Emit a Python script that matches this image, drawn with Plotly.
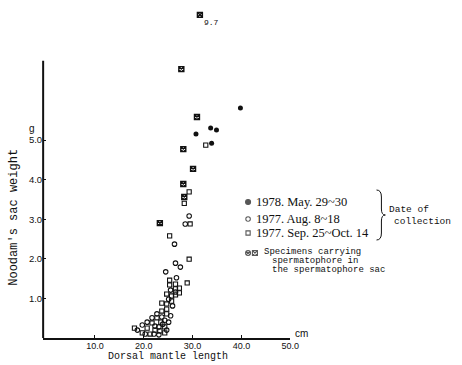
import plotly.graph_objects as go

# ---------------- data ----------------
# 1978. May. 29~30 (filled circles)
may78_x = [39.8, 33.7, 34.9, 30.7, 33.9]
may78_y = [5.81, 5.30, 5.25, 5.15, 4.92]

# 1977. Aug. 8~18 (open circles)
aug77_x = [26.5, 27.5, 24.5, 26.3, 29.3, 28.5, 26.5, 25.5, 22.7, 23.7, 24.3, 19.7, 18.7,
           20.7, 21.7, 22.3, 23.1, 23.9, 20.3, 22.1, 23.1, 24.7, 25.1, 25.5, 25.1, 25.9, 26.7]
aug77_y = [1.89, 1.79, 1.67, 2.37, 3.08, 2.88, 1.16, 1.21, 0.61, 0.53, 0.45, 0.33, 0.20,
           0.40, 0.51, 0.30, 0.28, 0.35, 0.10, 0.10, 0.08, 0.20, 0.40, 0.56, 0.98, 0.81, 1.52]

# 1977. Sep. 25~Oct. 14 (open squares)
sep77_x = [32.7, 29.3, 28.3, 29.5, 25.3, 29.3, 28.9,
           25.3, 25.3, 26.5, 26.5, 27.3, 27.3, 24.7, 25.7, 25.7, 26.5, 23.7, 24.7, 24.7,
           23.7, 24.7, 22.7, 23.5, 21.7, 18.1, 20.7, 22.3, 23.3, 24.3, 24.3, 21.3, 19.7]
sep77_y = [4.87, 3.69, 3.40, 2.88, 2.58, 1.99, 1.39,
           1.46, 1.34, 1.36, 1.24, 1.26, 1.14, 1.11, 1.06, 0.93, 1.09, 0.88, 0.86, 0.73,
           0.68, 0.61, 0.51, 0.40, 0.38, 0.25, 0.25, 0.20, 0.18, 0.28, 0.13, 0.10, 0.13]

# Specimens carrying spermatophore in the spermatophore sac (crossed markers)
sperm_x = [27.7, 30.9, 28.1, 30.1, 28.1, 28.3, 23.3]
sperm_y = [6.79, 5.58, 4.77, 4.27, 3.89, 3.56, 2.90]
# off-scale specimen
sperm_off_x = [31.5]
sperm_off_value = [9.7]

x_ticks = [10, 20, 30, 40, 50]
x_ticklabels = ["10.0", "20.0", "30.0", "40.0", "50.0"]
y_ticks = [1, 2, 3, 4, 5]
y_ticklabels = ["1.0", "2.0", "3.0", "4.0", "5.0"]

legend_labels = ["1978. May. 29~30", "1977. Aug. 8~18", "1977. Sep. 25~Oct. 14"]

# ---------------- layout constants ----------------
W, H = 462, 365
PX_L, PX_R, PX_B, PX_T = 44, 296, 338, 8        # plot area in pixels
Y_TOP = (PX_B - PX_T) / 39.6                      # y range top in data units
AXIS_BREAK_Y = 8.16                               # display height of off-scale point
Y_AXIS_END = 7.0

BLACK = "#111111"
MONO = "Liberation Mono"
SERIF = "Liberation Serif"
SANS = "Liberation Sans"

fig = go.Figure()

mk_line = dict(color=BLACK, width=1.1)
fig.add_trace(go.Scatter(x=aug77_x, y=aug77_y, mode="markers",
                         marker=dict(symbol="circle-open", size=4.5, color=BLACK, line=mk_line)))
fig.add_trace(go.Scatter(x=sep77_x, y=sep77_y, mode="markers",
                         marker=dict(symbol="square-open", size=4.2, color=BLACK, line=mk_line)))
fig.add_trace(go.Scatter(x=may78_x, y=may78_y, mode="markers",
                         marker=dict(symbol="circle", size=5, color=BLACK)))
fig.add_trace(go.Scatter(x=sperm_x, y=sperm_y, mode="markers",
                         marker=dict(symbol="square-x-open", size=5, color=BLACK,
                                     line=dict(color=BLACK, width=1.4))))
fig.add_trace(go.Scatter(x=sperm_off_x, y=[min(v, AXIS_BREAK_Y) for v in sperm_off_value],
                         mode="markers+text",
                         text=[f"{v}" for v in sperm_off_value], textposition="bottom right",
                         textfont=dict(family=MONO, size=8, color=BLACK),
                         marker=dict(symbol="square-x-open", size=5, color=BLACK,
                                     line=dict(color=BLACK, width=1.4))))

# legend glyphs in an overlay pixel space (x2/y2)
leg_px_x = [253, 253, 253, 253, 260]
leg_px_y = [202, 219, 233, 253, 253]
leg_sym = ["circle", "circle-open", "square-open", "circle-x-open", "square-x-open"]
leg_size = [5, 4.5, 4.2, 5, 5]
fig.add_trace(go.Scatter(x=leg_px_x, y=leg_px_y, xaxis="x2", yaxis="y2", mode="markers",
                         marker=dict(symbol=leg_sym, size=leg_size, color=BLACK,
                                     line=dict(color=BLACK, width=1.1))))

fig.update_layout(
    width=W, height=H,
    margin=dict(l=0, r=0, t=0, b=0),
    paper_bgcolor="white", plot_bgcolor="rgba(0,0,0,0)",
    showlegend=False,
    xaxis=dict(domain=[PX_L / W, PX_R / W], range=[-0.6, 50], showgrid=False, zeroline=False,
               showline=True, linecolor=BLACK, linewidth=2,
               tickvals=x_ticks, ticktext=x_ticklabels, ticks="inside", ticklen=3,
               tickcolor=BLACK, tickfont=dict(family=SANS, size=9, color=BLACK),
               ticklabelstandoff=-2),
    yaxis=dict(domain=[(H - PX_B) / H, (H - PX_T) / H], range=[0, Y_TOP], showgrid=False,
               zeroline=False, showline=False,
               tickvals=y_ticks, ticktext=y_ticklabels, ticks="inside", ticklen=3,
               tickcolor=BLACK, tickfont=dict(family=SANS, size=9.5, color=BLACK),
               ticklabelstandoff=0),
    xaxis2=dict(domain=[0, 1], range=[0, W], visible=False, anchor="y2"),
    yaxis2=dict(domain=[0, 1], range=[H, 0], visible=False, anchor="x2"),
)

# y axis line only up to 7.0
fig.add_shape(type="line", xref="x domain", yref="y", x0=0, x1=0, y0=0, y1=Y_AXIS_END,
              line=dict(color=BLACK, width=2))

# brace
fig.add_shape(type="path", xref="x2", yref="y2",
              path="M 384 190 Q 389 190 389 197 L 389 209 Q 389 215 393 215 "
                   "Q 389 215 389 221 L 389 233 Q 389 240 384 240",
              line=dict(color=BLACK, width=1))

def ann(text, x, y, font, size, xanchor="left", angle=0):
    fig.add_annotation(text=text, x=x, y=y, xref="x2", yref="y2", showarrow=False,
                       xanchor=xanchor, yanchor="middle", textangle=angle,
                       font=dict(family=font, size=size, color=BLACK))

ann("Dorsal mantle length", 171, 356, MONO, 10, xanchor="center")
ann("Noodam's sac weight", 14, 217, MONO, 12, xanchor="center", angle=-90)
ann("g", 33, 128, SANS, 10, xanchor="center")
ann("cm", 299, 333, SANS, 10)

for lab, y in zip(legend_labels, [202, 219, 233]):
    ann(lab, 259, y, SERIF, 12.5)
ann("Specimens carrying", 267, 252, MONO, 9)
ann("spermatophore in", 275, 261, MONO, 9)
ann("the spermatophore sac", 275, 270, MONO, 9)
ann("Date of", 395, 209, MONO, 9.5)
ann("collection", 400, 221, MONO, 9.5)

fig.write_html("out.html")
